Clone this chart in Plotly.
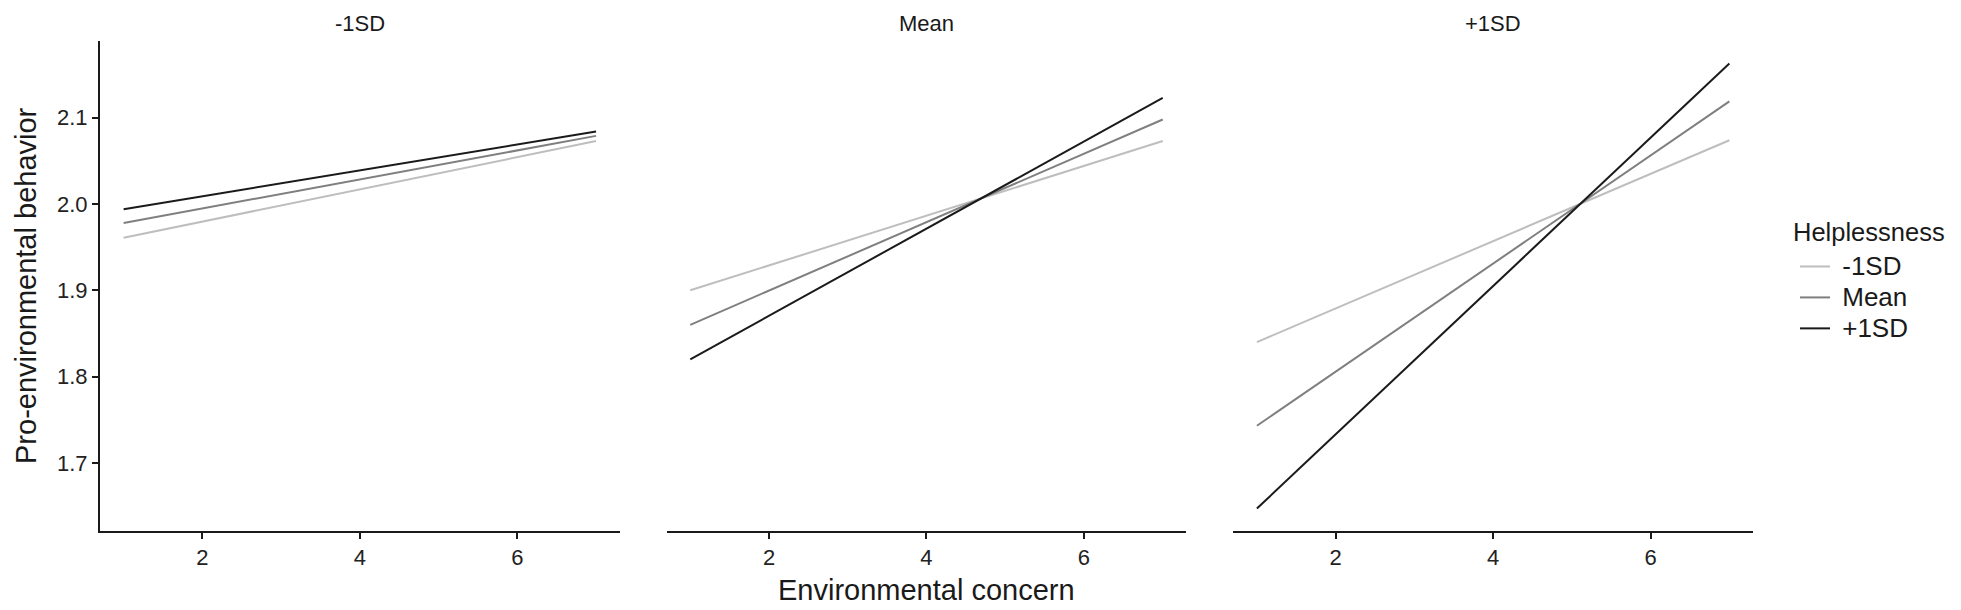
import plotly.graph_objects as go

# ---- data ----
concern = [1, 7]                      # Environmental concern (x endpoints)
panel_titles = ["-1SD", "Mean", "+1SD"]
helplessness = ["-1SD", "Mean", "+1SD"]

# Panel "-1SD"
p1_low = [1.961, 2.073]
p1_mean = [1.978, 2.079]
p1_high = [1.994, 2.084]
# Panel "Mean"
p2_low = [1.900, 2.073]
p2_mean = [1.860, 2.098]
p2_high = [1.820, 2.123]
# Panel "+1SD"
p3_low = [1.840, 2.074]
p3_mean = [1.743, 2.119]
p3_high = [1.647, 2.163]

y_ticks = [1.7, 1.8, 1.9, 2.0, 2.1]
x_ticks = [2, 4, 6]

panels = [[p1_low, p1_mean, p1_high],
          [p2_low, p2_mean, p2_high],
          [p3_low, p3_mean, p3_high]]

colors = ["#BEBEBE", "#7F7F7F", "#1A1A1A"]
FONT = "Liberation Sans, Arial, sans-serif"

fig = go.Figure()
for pi, series in enumerate(panels):
    xa = "x" if pi == 0 else f"x{pi+1}"
    ya = "y" if pi == 0 else f"y{pi+1}"
    for gi, vals in enumerate(series):
        fig.add_trace(go.Scatter(
            x=concern, y=vals, mode="lines",
            line=dict(color=colors[gi], width=2),
            name=f"<span style='font-size:26px'>&nbsp;{helplessness[gi]}</span>",
            legendgroup=helplessness[gi],
            showlegend=(pi == 0), xaxis=xa, yaxis=ya,
            hoverinfo="skip"))

gap = 0.0284
w = (1 - 2 * gap) / 3
domains = [[0, w], [w + gap, 2 * w + gap], [1 - w, 1]]

xr = [0.7, 7.3]
yr = [1.621, 2.189]
axis_common = dict(range=xr, tickvals=x_ticks, ticktext=[str(t) for t in x_ticks],
                   showline=True, linecolor="#1a1a1a", linewidth=2,
                   ticks="outside", ticklen=6, tickwidth=2, tickcolor="#1a1a1a",
                   showgrid=False, zeroline=False,
                   tickfont=dict(family=FONT, size=22, color="#222222"))
layout = dict(
    width=1961, height=610,
    margin=dict(l=92, r=216, t=33, b=87),
    plot_bgcolor="white", paper_bgcolor="white",
    font=dict(family=FONT, color="#1a1a1a"),
)
for i in range(3):
    key = "xaxis" if i == 0 else f"xaxis{i+1}"
    ykey = "yaxis" if i == 0 else f"yaxis{i+1}"
    d = dict(axis_common)
    d["domain"] = domains[i]
    d["anchor"] = "y" if i == 0 else f"y{i+1}"
    layout[key] = d
    if i == 0:
        layout[ykey] = dict(range=yr, tickvals=y_ticks,
                            ticktext=[f"{t:.1f}" for t in y_ticks],
                            showline=True, linecolor="#1a1a1a", linewidth=2,
                            ticks="outside", ticklen=6, tickwidth=2, tickcolor="#1a1a1a",
                            showgrid=False, zeroline=False, anchor="x",
                            tickfont=dict(family=FONT, size=22, color="#222222"))
    else:
        layout[ykey] = dict(range=yr, matches="y", showline=False, showticklabels=False,
                            ticks="", showgrid=False, zeroline=False, anchor=f"x{i+1}")

fig.update_layout(**layout)

annotations = []
for i, t in enumerate(panel_titles):
    annotations.append(dict(text=t, x=(domains[i][0] + domains[i][1]) / 2, y=1.0357,
                            xref="paper", yref="paper", showarrow=False,
                            xanchor="center", yanchor="middle",
                            font=dict(family=FONT, size=22, color="#1a1a1a")))
annotations.append(dict(text="Environmental concern", x=0.5, y=-0.12,
                        xref="paper", yref="paper", showarrow=False,
                        xanchor="center", yanchor="middle",
                        font=dict(family=FONT, size=29, color="#1a1a1a")))
annotations.append(dict(text="Pro-environmental behavior", x=-92 / 1653, y=0.5,
                        xref="paper", yref="paper", showarrow=False, textangle=-90,
                        xanchor="left", yanchor="middle",
                        font=dict(family=FONT, size=29, color="#1a1a1a")))
# legend title
annotations.append(dict(text="Helplessness", x=(1783 - 92) / 1653, y=1 - (224 - 33) / 490,
                        xref="paper", yref="paper", showarrow=False,
                        xanchor="left", yanchor="middle",
                        font=dict(family=FONT, size=25.5, color="#1a1a1a")))
fig.update_layout(annotations=annotations)

fig.update_layout(legend=dict(
    font=dict(family=FONT, size=21.5, color="#1a1a1a"),
    x=(1787 - 92) / 1653, xanchor="left", xref="paper",
    y=1 - (238 - 33) / 490, yanchor="top",
    bgcolor="rgba(0,0,0,0)", itemwidth=30, tracegroupgap=0))

fig.write_html("out.html")
